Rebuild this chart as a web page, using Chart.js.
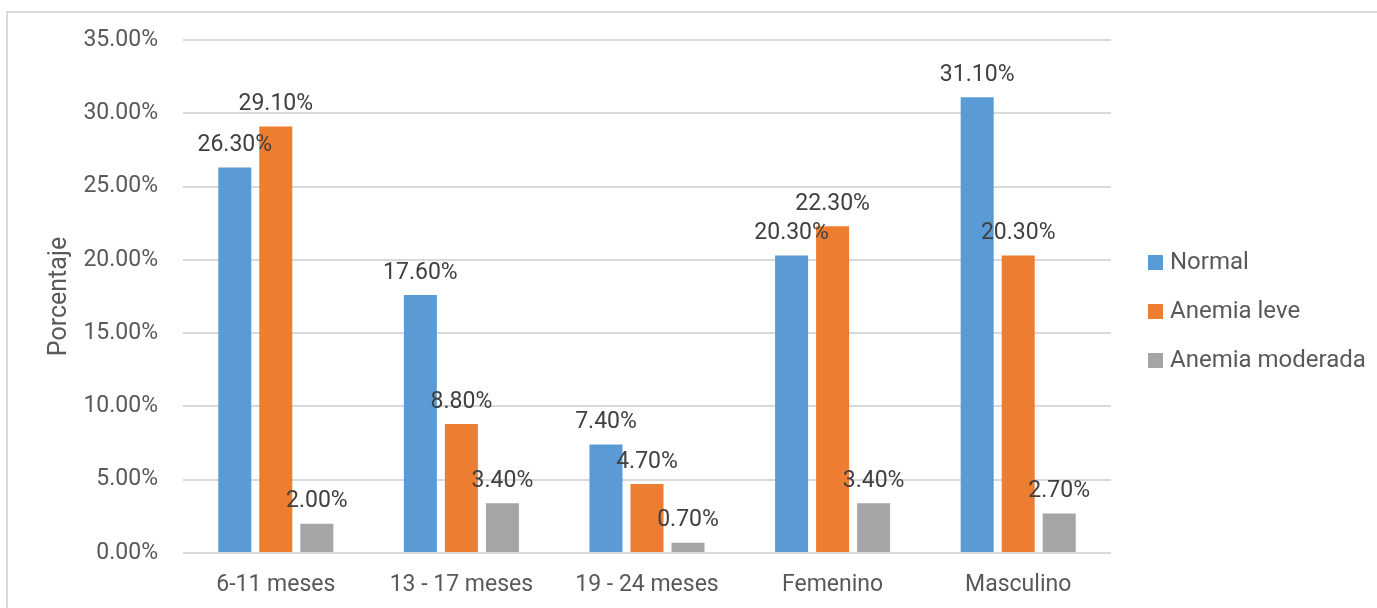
<!DOCTYPE html>
<html>
<head>
  <title>Anemia por edad y sexo</title>
  <script src="https://cdn.jsdelivr.net/npm/chart.js"></script>
  <style>
    body { margin: 0; background: #fff; }
    #frame { position: absolute; left: 6px; top: 11px; width: 1500px; height: 700px; border: 2px solid #d9d9d9; }
    #wrap { position: absolute; left: 0; top: 0; width: 1377px; height: 608px; }
  </style>
</head>
<body>
  <div id="frame"></div>
  <div id="wrap"><canvas id="chart"></canvas></div>

  <script>
    const categories = ["6-11 meses", "13 - 17 meses", "19 - 24 meses", "Femenino", "Masculino"];
    const normal = [26.3, 17.6, 7.4, 20.3, 31.1];
    const anemiaLeve = [29.1, 8.8, 4.7, 22.3, 20.3];
    const anemiaModerada = [2.0, 3.4, 0.7, 3.4, 2.7];
    const seriesNames = ["Normal", "Anemia leve", "Anemia moderada"];
    const seriesColors = ["#5B9BD5", "#ED7D31", "#A5A5A5"];

    const FONT = "Roboto";

    // value labels above each bar
    const barLabels = {
      id: "barLabels",
      afterDatasetsDraw(chart) {
        const ctx = chart.ctx;
        ctx.save();
        ctx.font = "23px " + FONT;
        ctx.fillStyle = "#404040";
        ctx.textAlign = "center";
        ctx.textBaseline = "middle";
        chart.data.datasets.forEach((ds, i) => {
          chart.getDatasetMeta(i).data.forEach((bar, j) => {
            ctx.fillText(ds.data[j].toFixed(2) + "%", bar.x, bar.y - 22);
          });
        });
        ctx.restore();
      }
    };

    // legend on the right, Excel style
    const sideLegend = {
      id: "sideLegend",
      afterDraw(chart) {
        const ctx = chart.ctx;
        const x = chart.chartArea.right + 37;
        ctx.save();
        ctx.font = "24px " + FONT;
        ctx.textBaseline = "middle";
        chart.data.datasets.forEach((ds, i) => {
          const y = 262 + i * 49;
          ctx.fillStyle = ds.backgroundColor;
          ctx.fillRect(x, y - 7, 15, 15);
          ctx.fillStyle = "#595959";
          ctx.fillText(ds.label, x + 22, y + 1);
        });
        ctx.restore();
      }
    };

    new Chart(document.getElementById("chart"), {
      type: "bar",
      data: {
        labels: categories,
        datasets: [normal, anemiaLeve, anemiaModerada].map((d, i) => ({
          label: seriesNames[i],
          data: d,
          backgroundColor: seriesColors[i],
          categoryPercentage: 0.663,
          barPercentage: 0.805
        }))
      },
      options: {
        responsive: true,
        maintainAspectRatio: false,
        animation: false,
        layout: { padding: { left: 0, top: 40, right: 266, bottom: 0 } },
        plugins: {
          legend: { display: false },
          tooltip: { enabled: false }
        },
        scales: {
          x: {
            afterFit(scale) { scale.height = 55; },
            grid: { display: false },
            border: { display: false },
            ticks: { color: "#595959", font: { family: FONT, size: 23 }, padding: 10, maxRotation: 0 }
          },
          y: {
            min: 0,
            max: 35,
            afterFit(scale) { scale.width = 183; },
            grid: { color: "#D9D9D9", lineWidth: 2, drawTicks: false },
            border: { display: false },
            ticks: {
              stepSize: 5,
              padding: 25,
              color: "#595959",
              font: { family: FONT, size: 23 },
              callback: v => v.toFixed(2) + "%"
            },
            title: {
              display: true,
              text: "Porcentaje",
              color: "#595959",
              font: { family: FONT, size: 25 },
              padding: { top: 45 }
            }
          }
        }
      },
      plugins: [barLabels, sideLegend]
    });
  </script>
</body>
</html>
